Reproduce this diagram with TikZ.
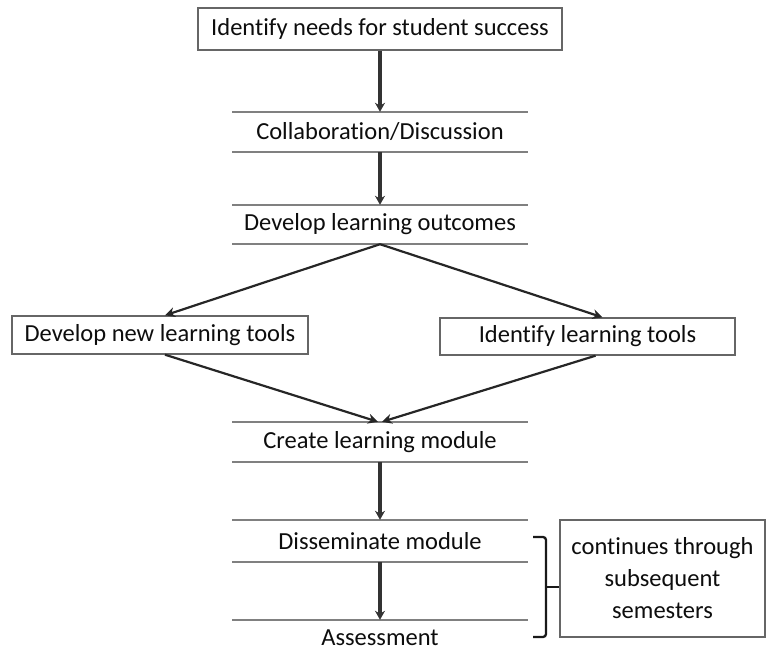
\documentclass[tikz,border=0pt]{standalone}
\usepackage{fontspec}
\setmainfont{Carlito}[Ligatures=NoCommon]
\usetikzlibrary{arrows.meta}
\begin{document}
\begin{tikzpicture}[x=1pt,y=-1pt,
  every node/.style={font=\fontsize{24.5}{29}\selectfont, text=black!95, inner sep=0pt},
  box/.style={draw=black!60, line width=1.4pt, minimum width=#1, minimum height=40pt},
  band/.style={minimum width=295pt, minimum height=#1},
  rule/.style={draw=black!50, line width=1.5pt},
  arr/.style={draw=black!80, line width=3.2pt, -{Stealth[length=9pt,width=10pt]}},
  darr/.style={draw=black!85, line width=2.2pt, -{Stealth[length=10pt,width=10pt]}},
  brace/.style={draw=black!90, line width=2.3pt, rounded corners=3pt}]
\useasboundingbox (0,0) rectangle (769,656);
\node[box=364pt, minimum height=42pt] (top) at (380,29) {Identify needs for student success};
\node[band=40pt] (collab) at (380,132) {Collaboration/Discussion};
\node[band=39pt] (outc) at (380,224.5) {Develop learning outcomes};
\node[box=296pt, minimum height=38pt] (left) at (160,335) {Develop new learning tools};
\node[box=295pt, minimum height=37pt] (right) at (587.5,336.5) {Identify learning tools};
\node[band=40pt] (create) at (380,442) {Create learning module};
\node[band=42pt] (dissem) at (380,541) {Disseminate module};
\node[band=36pt] (assess) at (380,638) {Assessment};
\node[box=205pt, minimum height=117pt, align=center, font=\fontsize{24.5}{32}\selectfont] (note) at (662.5,578.5) {continues through\\subsequent\\semesters};
\foreach \n in {collab,outc,create,dissem} {
  \draw[rule] (\n.north west) -- (\n.north east);
  \draw[rule] (\n.south west) -- (\n.south east);
}
\draw[rule] (assess.north west) -- (assess.north east);
\draw[arr] (top.south) -- (collab.north);
\draw[arr] (collab.south) -- (outc.north);
\draw[darr] (outc.south) -- ([xshift=5pt]left.north);
\draw[darr] (outc.south) -- ([xshift=15pt]right.north);
\draw[darr] ([xshift=5pt]left.south) -- ([xshift=-2pt]create.north);
\draw[darr] ([xshift=8pt]right.south) -- ([xshift=2pt]create.north);
\draw[arr] (create.south) -- (dissem.north);
\draw[arr] (dissem.south) -- (assess.north);
\coordinate (bt) at (533,537);
\coordinate (bb) at (533,637);
\coordinate (bm) at (546,587);
\draw[brace] (bt) -- (546,537) -- (546,637) -- (bb);
\draw[brace] (bm) -- (note.west |- bm);
\end{tikzpicture}
\end{document}
